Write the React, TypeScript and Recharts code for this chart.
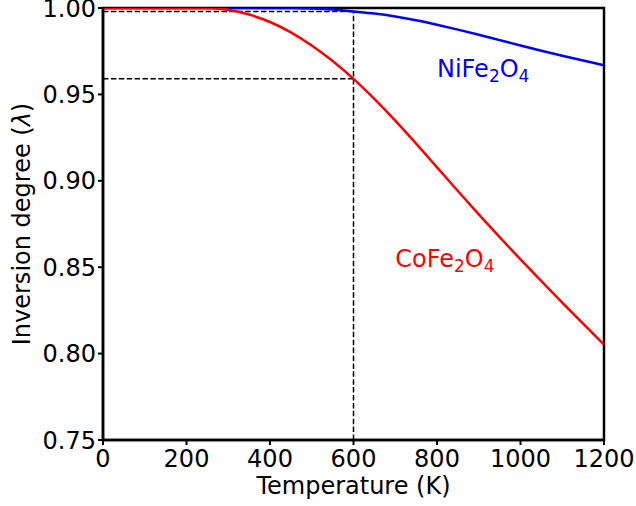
import React from 'react';
import {
  ComposedChart,
  Line,
  Scatter,
  XAxis,
  YAxis,
  ReferenceLine,
  ReferenceArea,
  Label,
} from 'recharts';

// Temperature grid (K)
const temperatures = [
  0, 50, 100, 150, 200, 250, 300, 350, 400, 450, 500, 550, 600, 650, 700, 750,
  800, 850, 900, 950, 1000, 1050, 1100, 1150, 1200,
];

// Inversion degree of CoFe2O4 (red)
const coFe2O4 = [
  1.0, 1.0, 1.0, 1.0, 1.0, 1.0, 0.999, 0.9962, 0.9919, 0.9859, 0.9783, 0.9693,
  0.959, 0.9474, 0.9348, 0.9215, 0.9078, 0.8941, 0.8806, 0.8674, 0.8545,
  0.8419, 0.8295, 0.8173, 0.8052,
];

// Inversion degree of NiFe2O4 (blue)
const niFe2O4 = [
  1.0, 1.0, 1.0, 1.0, 1.0, 1.0, 1.0, 1.0, 1.0, 1.0, 0.9997, 0.9991, 0.998,
  0.9968, 0.9951, 0.9929, 0.9903, 0.9875, 0.9845, 0.9814, 0.9783, 0.9753,
  0.9724, 0.9696, 0.9669,
];

const xTicks = [0, 200, 400, 600, 800, 1000, 1200];
const yTicks = [0.75, 0.8, 0.85, 0.9, 0.95, 1.0];

// Dashed guide lines: value at 600 K
const guideT = 600;
const guideNi = 0.998;
const guideCo = 0.959;

// Annotations
const annotations = [
  { T: 800, v: 0.96, main: 'NiFe', sub1: '2', mid: 'O', sub2: '4', color: '#0000ff' },
  { T: 700, v: 0.85, main: 'CoFe', sub1: '2', mid: 'O', sub2: '4', color: '#ff0000' },
];

const data = temperatures.map((T, i) => ({ T, co: coFe2O4[i], ni: niFe2O4[i] }));

const FONT = 'DejaVu Sans';

const AnnotationShape = (props: any) => {
  const { cx, cy, payload } = props;
  return (
    <text x={cx} y={cy} fill={payload.color} fontSize={24} fontFamily={FONT}>
      <tspan>{payload.main}</tspan>
      <tspan fontSize={17} dy={5}>{payload.sub1}</tspan>
      <tspan dy={-5}>{payload.mid}</tspan>
      <tspan fontSize={17} dy={5}>{payload.sub2}</tspan>
    </text>
  );
};

export default function App() {
  return (
    <div style={{ position: 'absolute', left: 0, top: 0, background: '#fff' }}>
      <ComposedChart
        width={636}
        height={506}
        data={data}
        margin={{ top: 8, right: 32, bottom: 0, left: 0 }}
      >
        <XAxis
          dataKey="T"
          type="number"
          domain={[0, 1200]}
          ticks={xTicks}
          interval={0}
          height={66}
          tickSize={5}
          tickMargin={5}
          axisLine={{ stroke: '#000', strokeWidth: 2.5 }}
          tickLine={{ stroke: '#000', strokeWidth: 2 }}
          tick={{ fill: '#000', fontSize: 24, fontFamily: FONT }}
        >
          <Label
            content={(p: any) => {
              const vb = p.viewBox || {};
              return (
                <text
                  x={vb.x + vb.width / 2}
                  y={vb.y + 54}
                  textAnchor="middle"
                  fill="#000"
                  fontSize={24}
                  fontFamily={FONT}
                >
                  Temperature (K)
                </text>
              );
            }}
          />
        </XAxis>
        <YAxis
          type="number"
          domain={[0.75, 1.0]}
          ticks={yTicks}
          interval={0}
          width={103}
          tickSize={5}
          tickMargin={2}
          allowDataOverflow
          tickFormatter={(v: number) => v.toFixed(2)}
          axisLine={{ stroke: '#000', strokeWidth: 2.5 }}
          tickLine={{ stroke: '#000', strokeWidth: 2 }}
          tick={{ fill: '#000', fontSize: 24, fontFamily: FONT }}
        >
          <Label
            content={(p: any) => {
              const vb = p.viewBox || {};
              const cx = vb.x + 30;
              const cy = vb.y + vb.height / 2;
              return (
                <text
                  x={cx}
                  y={cy}
                  transform={`rotate(-90, ${cx}, ${cy})`}
                  textAnchor="middle"
                  fill="#000"
                  fontSize={24}
                  fontFamily={FONT}
                >
                  Inversion degree (<tspan fontStyle="italic">λ</tspan>)
                </text>
              );
            }}
          />
        </YAxis>

        <ReferenceLine
          segment={[
            { x: 0, y: guideNi },
            { x: guideT, y: guideNi },
          ]}
          stroke="#000"
          strokeWidth={1.5}
          strokeDasharray="5.5 2.4"
        />
        <ReferenceLine
          segment={[
            { x: 0, y: guideCo },
            { x: guideT, y: guideCo },
          ]}
          stroke="#000"
          strokeWidth={1.5}
          strokeDasharray="5.5 2.4"
        />
        <ReferenceLine
          segment={[
            { x: guideT, y: 0.75 },
            { x: guideT, y: guideNi },
          ]}
          stroke="#000"
          strokeWidth={1.5}
          strokeDasharray="5.5 2.4"
        />

        <Line
          type="monotone"
          dataKey="ni"
          stroke="#0000ff"
          strokeWidth={2.5}
          dot={false}
          activeDot={false}
          isAnimationActive={false}
        />
        <Line
          type="monotone"
          dataKey="co"
          stroke="#ff0000"
          strokeWidth={2.5}
          dot={false}
          activeDot={false}
          isAnimationActive={false}
        />
        <Scatter
          data={annotations}
          dataKey="v"
          shape={AnnotationShape}
          isAnimationActive={false}
        />
        <ReferenceArea
          x1={0}
          x2={1200}
          y1={0.75}
          y2={1.0}
          fill="none"
          fillOpacity={0}
          stroke="#000"
          strokeWidth={2.5}
        />
      </ComposedChart>
    </div>
  );
}
